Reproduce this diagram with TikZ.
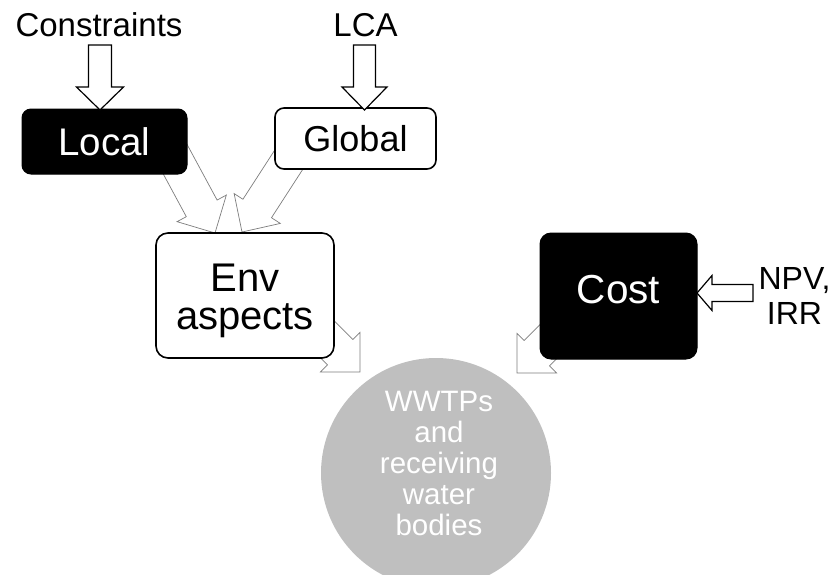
\documentclass[tikz,border=0pt]{standalone}
\usepackage{fontspec}
\setmainfont{Liberation Sans}
\usetikzlibrary{calc}
\definecolor{circgray}{RGB}{191,191,191}
\definecolor{thingray}{RGB}{125,125,125}
\newcommand{\blockarr}[6]{%
  \coordinate (hb) at ($(#3)!#4!(#2)$);
  \draw[#1] ($(#2)!#6!90:(#3)$) -- ($(hb)!#6!90:(#3)$) -- ($(hb)!#5!90:(#3)$) -- (#3)
    -- ($(hb)!#5!-90:(#3)$) -- ($(hb)!#6!-90:(#3)$) -- ($(#2)!#6!-90:(#3)$) -- cycle;
}
\tikzset{
  thinarrow/.style={draw=thingray, fill=white, line width=0.7pt, line join=miter},
  thickarrow/.style={draw=black, fill=white, line width=1.2pt, line join=miter},
  blackbox/.style={draw=black, fill=black, text=white, rounded corners=9pt, line width=1pt},
  whitebox/.style={draw=black, fill=white, text=black, rounded corners=9pt, line width=1.6pt},
  label/.style={inner sep=0pt, align=center},
}
\begin{document}
\begin{tikzpicture}[x=1pt, y=-1pt]
\path[use as bounding box] (0,0) rectangle (834,574);
\clip (0,0) rectangle (834,574);

% arrow end coordinates
\coordinate (aLt) at (167.5,145);  \coordinate (aLh) at (215,233);
\coordinate (aGt) at (301.5,140);  \coordinate (aGh) at (242,232);
\coordinate (aEt) at (303,315);    \coordinate (aEh) at (360,372);
\coordinate (aCt) at (574,316);    \coordinate (aCh) at (517,373);
\coordinate (aKt) at (100,45);     \coordinate (aKh) at (100,110);
\coordinate (aAt) at (364.5,45);   \coordinate (aAh) at (364.5,110);
\coordinate (aNt) at (753,293);    \coordinate (aNh) at (697,293);

% thin block arrows (behind the boxes)
\blockarr{thinarrow}{aLt}{aLh}{28pt}{28pt}{17.5pt}
\blockarr{thinarrow}{aGt}{aGh}{28pt}{27.5pt}{17pt}
\blockarr{thinarrow}{aEt}{aEh}{28pt}{28pt}{18pt}
\blockarr{thinarrow}{aCt}{aCh}{28pt}{28pt}{18pt}

% boxes
\node[blackbox, minimum width=165pt, minimum height=65pt, font=\fontsize{38.5}{40}\selectfont] (local) at (104.5,141.5) {Local};
\node[whitebox, minimum width=161pt, minimum height=61pt, font=\fontsize{36}{40}\selectfont] (global) at (355.5,138.5) {Global};
\node[whitebox, rounded corners=12pt, minimum width=178pt, minimum height=125pt] (env) at (245,295.5) {};
\node[label, font=\fontsize{40}{38}\selectfont] (envtext) at (245,301) {Env\\aspects};
\node[blackbox, rounded corners=11pt, minimum width=157pt, minimum height=126pt, text depth=14pt, font=\fontsize{40.5}{40}\selectfont] (cost) at (618.5,296) {Cost};

% circle
\node[circle, fill=circgray, minimum size=230pt, inner sep=0pt] (wwtp) at (436,473) {};
\node[label, text=white, font=\fontsize{29.5}{31}\selectfont] (wwtptext) at (439,463) {WWTPs\\and\\receiving\\water\\bodies};

% input labels
\node[label, font=\fontsize{33}{38}\selectfont] (constraints) at (99,25) {Constraints};
\node[label, font=\fontsize{33}{38}\selectfont] (lca) at (365.5,25) {LCA};
\node[label, font=\fontsize{32}{35}\selectfont] (npv) at (794.5,296) {NPV,\\IRR};

% thick block arrows
\blockarr{thickarrow}{aKt}{aKh}{23pt}{23.5pt}{11.5pt}
\blockarr{thickarrow}{aAt}{aAh}{23pt}{22.5pt}{11pt}
\blockarr{thickarrow}{aNt}{aNh}{15pt}{17.5pt}{8.5pt}
\end{tikzpicture}
\end{document}
